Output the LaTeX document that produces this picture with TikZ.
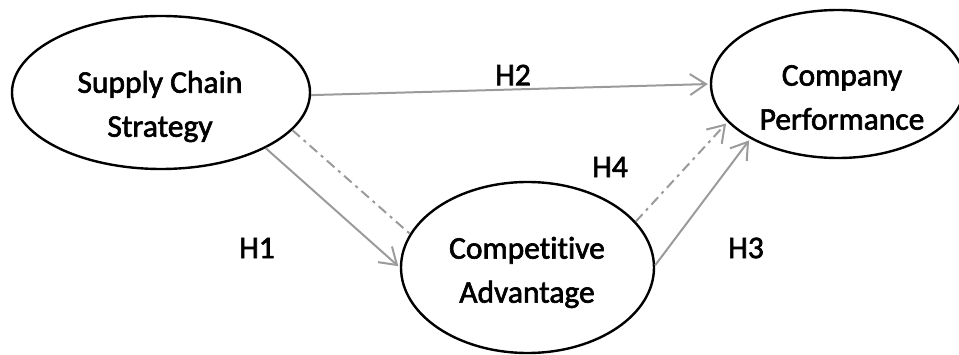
\documentclass[tikz,border=0pt]{standalone}
\usepackage{fontspec}
\setmainfont{Carlito}[Ligatures={NoCommon}]
\newfontfamily\lblfont{Carlito}[Ligatures={NoCommon}, FakeBold=2]
\usetikzlibrary{arrows.meta,shapes.geometric}
\definecolor{linegray}{RGB}{155,155,155}
\begin{document}
\begin{tikzpicture}[x=1pt,y=-1pt,
  oval/.style={ellipse, draw=black, line width=2.4pt, inner sep=0pt},
  txt/.style={font=\lblfont\fontsize{31.5}{44}\selectfont, align=center, inner sep=0pt},
  hyp/.style={font=\lblfont\fontsize{31.5}{36}\selectfont, inner sep=0pt},
  link/.style={draw=linegray, line width=2pt},
  tip/.style={-{Straight Barb[length=16pt,width=21pt]}, shorten >=2pt},
  arr/.style={link, tip},
  dashdot/.style={link, dash pattern=on 10pt off 5pt on 3pt off 5pt}]
\useasboundingbox (0,0) rectangle (959,355);
\node[oval, minimum width=298pt, minimum height=153pt] (scs) at (161,92.5) {};
\node[oval, minimum width=254pt, minimum height=148pt] (cp) at (838,84) {};
\node[oval, minimum width=253pt, minimum height=171pt] (ca) at (527.5,267.5) {};
\node[txt] (scst) at (160,106.5) {Supply Chain\\Strategy};
\node[txt] (cpt) at (842,97.5) {Company\\Performance};
\node[txt] (cat) at (527,272.5) {Competitive\\Advantage};
\draw[arr] (scs.-1) -- (cp.180);
\draw[arr] (scs.-28) -- (ca.180);
\draw[dashdot] (scs.-16) -- (ca.164);
\draw[dashdot, tip] (ca.23) -- (cp.-161);
\draw[arr] (ca.1) -- (cp.-148);
\node[hyp] (h1) at (257,248) {H1};
\node[hyp] (h2) at (513,75) {H2};
\node[hyp] (h3) at (746,248) {H3};
\node[hyp] (h4) at (610,167) {H4};
\end{tikzpicture}
\end{document}
